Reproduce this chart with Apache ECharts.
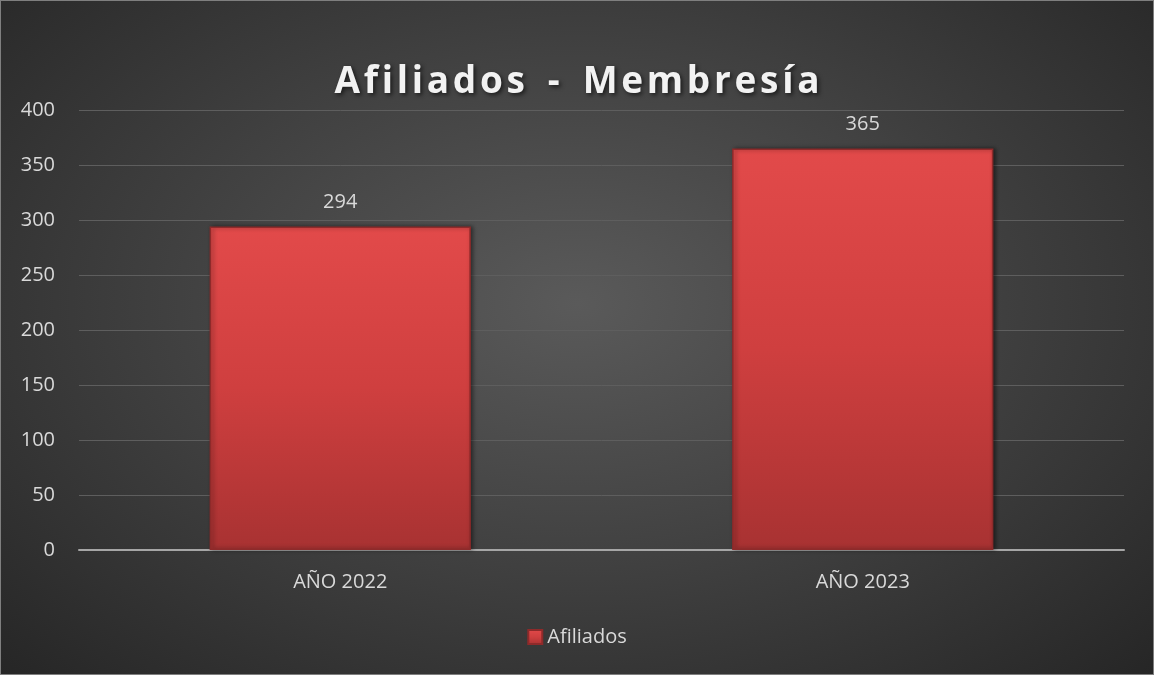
<!DOCTYPE html>
<html>
<head>
<meta charset="utf-8">
<script src="https://cdn.jsdelivr.net/npm/echarts@6/dist/echarts.min.js"></script>
<style>
  html, body { margin: 0; padding: 0; }
  #chart {
    width: 1154px; height: 675px; box-sizing: border-box;
    border: 1px solid #7f7f7f;
    background: radial-gradient(ellipse at 50% 45%, #5a5a5a 0%, #434343 45%, #262626 100%);
  }
</style>
</head>
<body>
<div id="chart"></div>
<script>
const categories = ["AÑO 2022", "AÑO 2023"];
const afiliados = [294, 365];
const yTicks = { min: 0, max: 400, interval: 50 };

const chart = echarts.init(document.getElementById("chart"));

const barFill = new echarts.graphic.LinearGradient(0, 0, 0, 1, [
  { offset: 0, color: "#e24a4a" },
  { offset: 0.5, color: "#cf3f3f" },
  { offset: 1, color: "#a83232" }
]);

chart.setOption({
  backgroundColor: "transparent",
  textStyle: { fontFamily: "Open Sans" },
  title: {
    text: "A f i l i a d o s   -   M e m b r e s í a".replace(/ (?! )/g, "\u200A"),
    left: "center",
    top: 58,
    textStyle: {
      color: "#f2f2f2",
      fontSize: 37,
      fontWeight: "bold",
      fontFamily: "Open Sans",
      textShadowColor: "rgba(0,0,0,0.6)",
      textShadowBlur: 4,
      textShadowOffsetX: 2,
      textShadowOffsetY: 2
    }
  },
  grid: { left: 78, right: 29, top: 109, bottom: 124 },
  legend: {
    bottom: 22,
    left: "center",
    itemWidth: 14,
    itemHeight: 14,
    itemGap: 4,
    icon: "rect",
    textStyle: { color: "#d9d9d9", fontSize: 20 },
    data: ["Afiliados"]
  },
  xAxis: {
    type: "category",
    data: categories,
    axisLine: { lineStyle: { color: "#a6a6a6", width: 2 } },
    axisTick: { show: false },
    axisLabel: { color: "#d9d9d9", fontSize: 20, margin: 22 }
  },
  yAxis: {
    type: "value",
    min: yTicks.min,
    max: yTicks.max,
    interval: yTicks.interval,
    axisLine: { show: false },
    axisTick: { show: false },
    axisLabel: { color: "#d9d9d9", fontSize: 20, margin: 24 },
    splitLine: { lineStyle: { color: "#5e5e5e", width: 1 } }
  },
  series: [{
    name: "Afiliados",
    type: "bar",
    data: afiliados,
    barWidth: "50%",
    itemStyle: {
      color: barFill,
      borderColor: "#8e2a2a",
      borderWidth: 1.5,
      shadowColor: "rgba(0,0,0,0.45)",
      shadowBlur: 4,
      shadowOffsetX: 2,
      shadowOffsetY: 0
    },
    label: {
      show: true,
      position: "top",
      distance: 14,
      color: "#d9d9d9",
      fontSize: 20
    }
  }]
});
</script>
</body>
</html>
